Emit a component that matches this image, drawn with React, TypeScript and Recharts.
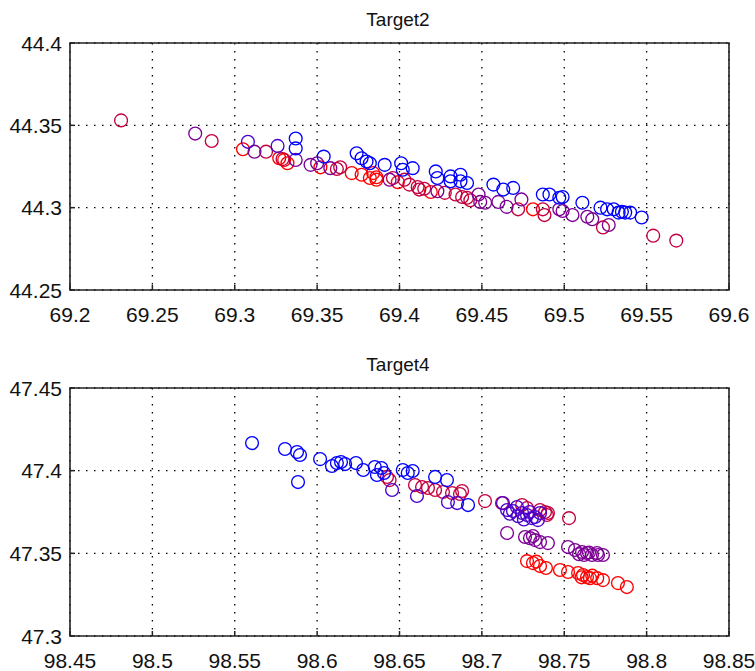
import { ScatterChart, Scatter, XAxis, YAxis, CartesianGrid, ReferenceArea } from 'recharts';

// Two MATLAB-style scatter panels, points coloured blue -> red by position in the track

const FONT = '"Liberation Sans", Arial, sans-serif';
const INK = '#222';
const TICK_LEN = 5;
const X_LABEL_GAP = 17;
const Y_LABEL_GAP = 8;

const COLORS = {
  blue: '#0000ff',
  violet: '#4b00cc',
  purple: '#7c0094',
  crimson: '#c4003e',
  red: '#ff0000',
};

// ── Target2 ──────────────────────────────────
const target2XTicks = [69.2, 69.25, 69.3, 69.35, 69.4, 69.45, 69.5, 69.55, 69.6];
const target2YTicks = [44.25, 44.3, 44.35, 44.4];

const target2Blue: [number, number][] = [
  [69.337, 44.342], [69.337, 44.336], [69.354, 44.331], [69.374, 44.333], [69.377, 44.33],
  [69.38, 44.328], [69.382, 44.327], [69.391, 44.326], [69.401, 44.327], [69.402, 44.323],
  [69.408, 44.324], [69.422, 44.322], [69.423, 44.318], [69.431, 44.319], [69.431, 44.316],
  [69.437, 44.32], [69.437, 44.316], [69.441, 44.315], [69.457, 44.314], [69.463, 44.311],
  [69.469, 44.312], [69.487, 44.308], [69.491, 44.308], [69.497, 44.306], [69.499, 44.3065],
  [69.511, 44.303], [69.522, 44.3], [69.526, 44.299], [69.53, 44.299], [69.533, 44.297],
  [69.535, 44.2975], [69.537, 44.297], [69.54, 44.297], [69.547, 44.294],
];
const target2Violet: [number, number][] = [
  [69.308, 44.34], [69.326, 44.3375],
];
const target2Purple: [number, number][] = [
  [69.276, 44.345], [69.312, 44.334], [69.337, 44.329], [69.346, 44.326], [69.35, 44.327],
  [69.358, 44.324], [69.394, 44.317], [69.423, 44.31], [69.448, 44.308], [69.449, 44.3035],
  [69.452, 44.303], [69.46, 44.3035], [69.465, 44.3005], [69.474, 44.305], [69.497, 44.299],
  [69.499, 44.298], [69.505, 44.2955], [69.514, 44.2945], [69.517, 44.293], [69.527, 44.2895],
];
const target2Crimson: [number, number][] = [
  [69.231, 44.353], [69.286, 44.3405], [69.319, 44.334], [69.329, 44.3295], [69.362, 44.3235],
  [69.364, 44.3245], [69.396, 44.318], [69.403, 44.317], [69.406, 44.314], [69.411, 44.3125],
  [69.412, 44.311], [69.415, 44.3115], [69.4275, 44.309], [69.434, 44.308], [69.438, 44.3065],
  [69.441, 44.306], [69.443, 44.3045], [69.472, 44.299], [69.487, 44.299], [69.488, 44.2955],
  [69.5235, 44.288], [69.554, 44.283], [69.568, 44.28],
];
const target2Red: [number, number][] = [
  [69.305, 44.3355], [69.327, 44.33], [69.33, 44.329], [69.332, 44.327], [69.352, 44.3245],
  [69.371, 44.321], [69.377, 44.32], [69.382, 44.318], [69.384, 44.321], [69.386, 44.3185],
  [69.386, 44.317], [69.399, 44.3155], [69.419, 44.3095], [69.481, 44.299],
];

// ── Target4 ──────────────────────────────────
const target4XTicks = [98.45, 98.5, 98.55, 98.6, 98.65, 98.7, 98.75, 98.8, 98.85];
const target4YTicks = [47.3, 47.35, 47.4, 47.45];

const target4Blue: [number, number][] = [
  [98.5605, 47.4167], [98.5805, 47.4131], [98.5878, 47.4113], [98.5896, 47.4095], [98.5884, 47.3931],
  [98.6018, 47.407], [98.609, 47.4028], [98.612, 47.4046], [98.6145, 47.4052], [98.617, 47.404],
  [98.6236, 47.4046], [98.628, 47.4004], [98.635, 47.4022], [98.639, 47.4016], [98.6406, 47.3986],
  [98.6363, 47.3974], [98.652, 47.4004], [98.655, 47.3986], [98.658, 47.3998], [98.6716, 47.3962],
  [98.6788, 47.3943], [98.6916, 47.3792],
];
const target4Violet: [number, number][] = [
  [98.6455, 47.3883], [98.6606, 47.3847], [98.6794, 47.381], [98.685, 47.3804], [98.7128, 47.3804],
  [98.7153, 47.3762], [98.7189, 47.3756], [98.7213, 47.378], [98.7244, 47.3744], [98.7274, 47.3732],
  [98.7304, 47.3713], [98.7323, 47.372], [98.734, 47.3701], [98.7353, 47.3744], [98.717, 47.374],
  [98.722, 47.3725], [98.729, 47.375], [98.7255, 47.3705],
];
const target4Purple: [number, number][] = [
  [98.7153, 47.3623], [98.7262, 47.3599], [98.7292, 47.3592], [98.731, 47.3605], [98.7323, 47.358],
  [98.7353, 47.3568], [98.7401, 47.3562], [98.7523, 47.3538], [98.7565, 47.352], [98.7608, 47.3508],
  [98.7638, 47.3502], [98.7668, 47.349], [98.7699, 47.3502], [98.7705, 47.349], [98.7735, 47.349],
  [98.759, 47.3495], [98.762, 47.349], [98.765, 47.3505],
];
const target4Crimson: [number, number][] = [
  [98.644, 47.3943], [98.6424, 47.3962], [98.6594, 47.3913], [98.6637, 47.3901], [98.6673, 47.3895],
  [98.6716, 47.3883], [98.6764, 47.3871], [98.6819, 47.3865], [98.6867, 47.3859], [98.688, 47.3877],
  [98.7019, 47.3816], [98.7122, 47.3804], [98.7244, 47.3792], [98.7274, 47.3774], [98.7353, 47.3762],
  [98.7383, 47.375], [98.7401, 47.3744], [98.7395, 47.3732], [98.7529, 47.3713],
];
const target4Red: [number, number][] = [
  [98.7274, 47.3453], [98.731, 47.3441], [98.7353, 47.3423], [98.7389, 47.3411], [98.7474, 47.3399],
  [98.7523, 47.3387], [98.7584, 47.3381], [98.7614, 47.3369], [98.7638, 47.3357], [98.7656, 47.335],
  [98.77, 47.335], [98.7735, 47.3338], [98.7826, 47.332], [98.788, 47.3296], [98.733, 47.345],
  [98.7605, 47.3355], [98.767, 47.3365],
];

interface Group {
  color: string;
  points: [number, number][];
}

const target2Groups: Group[] = [
  { color: COLORS.red, points: target2Red },
  { color: COLORS.crimson, points: target2Crimson },
  { color: COLORS.purple, points: target2Purple },
  { color: COLORS.violet, points: target2Violet },
  { color: COLORS.blue, points: target2Blue },
];

const target4Groups: Group[] = [
  { color: COLORS.red, points: target4Red },
  { color: COLORS.crimson, points: target4Crimson },
  { color: COLORS.purple, points: target4Purple },
  { color: COLORS.violet, points: target4Violet },
  { color: COLORS.blue, points: target4Blue },
];

// ── Tick renderers: MATLAB ticks point into the box ──
const labelProps = { fill: '#111', fontSize: 21, fontFamily: FONT };

function BottomTick({ x, y, payload }: any) {
  const base = y - X_LABEL_GAP;
  return (
    <g>
      <line x1={x} x2={x} y1={base} y2={base - TICK_LEN} stroke={INK} strokeWidth={1.5} />
      <text x={x} y={y} dy={15} textAnchor="middle" {...labelProps}>
        {payload.value}
      </text>
    </g>
  );
}

function LeftTick({ x, y, payload }: any) {
  const base = x + Y_LABEL_GAP;
  return (
    <g>
      <line x1={base} x2={base + TICK_LEN} y1={y} y2={y} stroke={INK} strokeWidth={1.5} />
      <text x={x} y={y} dy={7.5} textAnchor="end" {...labelProps}>
        {payload.value}
      </text>
    </g>
  );
}

function TopTick({ x, y }: any) {
  return <line x1={x} x2={x} y1={y} y2={y + TICK_LEN} stroke={INK} strokeWidth={1.5} />;
}

function RightTick({ x, y }: any) {
  return <line x1={x} x2={x - TICK_LEN} y1={y} y2={y} stroke={INK} strokeWidth={1.5} />;
}

function Panel({
  height,
  xAxisHeight,
  xTicks,
  yTicks,
  groups,
}: {
  height: number;
  xAxisHeight: number;
  xTicks: number[];
  yTicks: number[];
  groups: Group[];
}) {
  const xDomain: [number, number] = [xTicks[0], xTicks[xTicks.length - 1]];
  const yDomain: [number, number] = [yTicks[0], yTicks[yTicks.length - 1]];

  return (
    <ScatterChart width={755} height={height} margin={{ top: 43, right: 26, bottom: 0, left: 8 }}>
      <CartesianGrid stroke="#000" strokeWidth={1.3} strokeDasharray="1.5 6.5" />
      <XAxis
        type="number"
        dataKey="x"
        domain={xDomain}
        ticks={xTicks}
        interval={0}
        allowDataOverflow
        height={xAxisHeight}
        tickSize={0}
        tickMargin={X_LABEL_GAP}
        axisLine={false}
        tickLine={false}
        tick={<BottomTick />}
      />
      <XAxis
        xAxisId="top"
        orientation="top"
        type="number"
        domain={xDomain}
        ticks={xTicks}
        interval={0}
        allowDataOverflow
        height={0}
        tickSize={0}
        tickMargin={0}
        axisLine={false}
        tickLine={false}
        tick={<TopTick />}
      />
      <YAxis
        type="number"
        dataKey="y"
        domain={yDomain}
        ticks={yTicks}
        interval={0}
        allowDataOverflow
        width={62}
        tickSize={0}
        tickMargin={Y_LABEL_GAP}
        axisLine={false}
        tickLine={false}
        tick={<LeftTick />}
      />
      <YAxis
        yAxisId="right"
        orientation="right"
        type="number"
        domain={yDomain}
        ticks={yTicks}
        interval={0}
        allowDataOverflow
        width={0}
        tickSize={0}
        tickMargin={0}
        axisLine={false}
        tickLine={false}
        tick={<RightTick />}
      />
      {/* axes box */}
      <ReferenceArea
        x1={xDomain[0]}
        x2={xDomain[1]}
        y1={yDomain[0]}
        y2={yDomain[1]}
        fill="none"
        fillOpacity={0}
        stroke={INK}
        strokeWidth={1.6}
        strokeOpacity={1}
      />
      {groups.map((g, i) => (
        <Scatter
          key={i}
          data={g.points.map(([x, y]) => ({ x, y }))}
          isAnimationActive={false}
          shape={(p: any) => (
            <circle cx={p.cx} cy={p.cy} r={6.4} fill="none" stroke={g.color} strokeWidth={1.35} />
          )}
        />
      ))}
    </ScatterChart>
  );
}

export default function App() {
  return (
    <div style={{ position: 'absolute', left: 0, top: 0, width: 755, height: 671, background: '#fff' }}>
      <div style={{ position: 'absolute', left: 0, top: 0 }}>
        <Panel height={330} xAxisHeight={40} xTicks={target2XTicks} yTicks={target2YTicks} groups={target2Groups} />
      </div>
      <div style={{ position: 'absolute', left: 0, top: 345 }}>
        <Panel height={326} xAxisHeight={35} xTicks={target4XTicks} yTicks={target4YTicks} groups={target4Groups} />
      </div>
      {/* panel titles */}
      <svg width={755} height={671} style={{ position: 'absolute', left: 0, top: 0, pointerEvents: 'none' }}>
        <text x={398} y={25.5} textAnchor="middle" fontFamily={FONT} fontSize={19} fill="#111">
          Target2
        </text>
        <text x={398} y={370.5} textAnchor="middle" fontFamily={FONT} fontSize={19} fill="#111">
          Target4
        </text>
      </svg>
    </div>
  );
}
